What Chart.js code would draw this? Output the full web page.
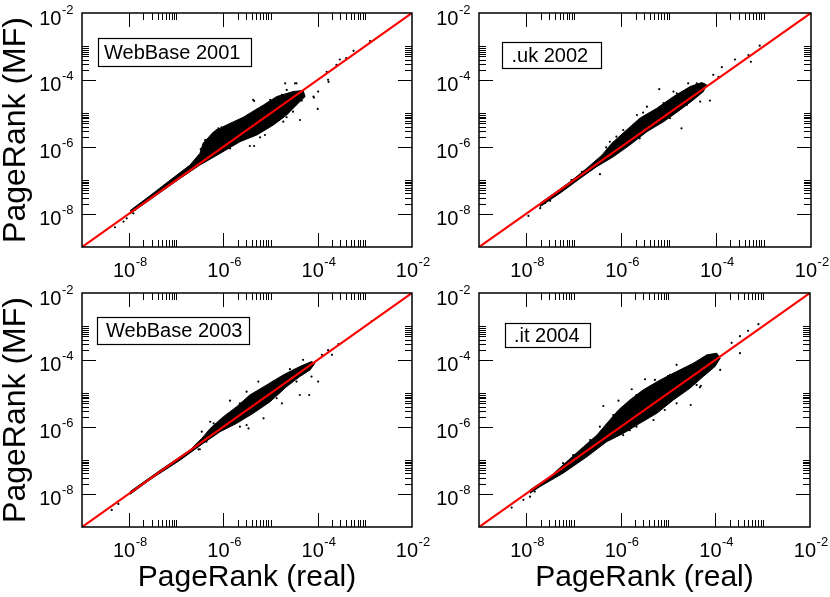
<!DOCTYPE html>
<html>
<head>
<meta charset="utf-8">
<script src="https://cdn.jsdelivr.net/npm/chart.js@4.4.1/dist/chart.umd.min.js"></script>
<style>
html, body { margin: 0; padding: 0; background: #fff; }
#wrap { position: relative; width: 830px; height: 597px; overflow: hidden; background: #fff; }
#wrap canvas { position: absolute; left: 0; top: 0; }
</style>
</head>
<body>
<div id="wrap">
  <canvas id="c0" width="830" height="597"></canvas>
  <canvas id="c1" width="830" height="597"></canvas>
  <canvas id="c2" width="830" height="597"></canvas>
  <canvas id="c3" width="830" height="597"></canvas>
</div>
<script>
// ---------- texts and ticks ----------
const panelNames = ['WebBase 2001', '.uk 2002', 'WebBase 2003', '.it 2004'];
const xAxisTitle = 'PageRank (real)';
const yAxisTitle = 'PageRank (MF)';
const axisMin = 1e-9;
const axisMax = 1e-2;
const majorTicks = [1e-8, 1e-6, 1e-4, 1e-2];
const tickBase = '10';
const tickExp = ['-8', '-6', '-4', '-2'];
const minorTicks = [2e-8, 3e-8, 4e-8, 5e-8, 6e-8, 7e-8, 8e-8, 9e-8, 1e-7,
                    2e-6, 3e-6, 4e-6, 5e-6, 6e-6, 7e-6, 8e-6, 9e-6, 1e-5,
                    2e-4, 3e-4, 4e-4, 5e-4, 6e-4, 7e-4, 8e-4, 9e-4, 1e-3];

// ---------- reference line y = x ----------
const diagX = [1e-9, 1e-2];
const diagY = [1e-9, 1e-2];

// ---------- WebBase 2001 ----------
// outline of the dense cloud
const coreX_wb2001 = [1.05e-8, 2.75e-8, 7.4e-8, 1.95e-7, 3.16e-7, 3.7e-7, 6.2e-7, 1.17e-6, 2.63e-6, 7.1e-6, 1.35e-5, 3.0e-5, 4.9e-5, 5.4e-5, 3.55e-5, 2.2e-5, 1.15e-5, 5.1e-6, 2.24e-6, 8.5e-7, 3.16e-7, 1.2e-7, 2.75e-8, 1.05e-8];
const coreY_wb2001 = [1.23e-8, 3.4e-8, 1.0e-7, 2.82e-7, 6.31e-7, 1.26e-6, 2.82e-6, 4.47e-6, 7.6e-6, 1.78e-5, 3.16e-5, 4.47e-5, 4.8e-5, 3.16e-5, 1.78e-5, 8.9e-6, 4.47e-6, 2.24e-6, 1.41e-6, 6.31e-7, 2.82e-7, 1.12e-7, 2.57e-8, 9.8e-9];
// isolated points
const dotX_wb2001 = [1.29e-3, 5.75e-4, 2.95e-4, 1.55e-4, 1.7e-4, 1.02e-4, 8.1e-5, 1.0e-4, 4.2e-5, 3.0e-5, 3.55e-5, 2.2e-5, 4.47e-6, 9.8e-6, 7.2e-7, 4.4e-7, 3.3e-7, 3.63e-6, 4.47e-6, 7.6e-6, 1.86e-5, 8.3e-5, 1.66e-4, 5.0e-9, 7.6e-9, 8.9e-9, 1.23e-8, 4.1e-7, 7.8e-7, 4.27e-6, 2.04e-5, 3.3e-5, 2.5e-4, 4.0e-4,
                     4.1e-7, 9.1e-7, 2.24e-6, 5.1e-6, 1.74e-5, 1.38e-6, 6.0e-6, 2.19e-5, 4.6e-5];
const dotY_wb2001 = [1.45e-3, 7.4e-4, 4.07e-4, 1.74e-4, 8.7e-5, 4.47e-5, 3.16e-5, 1.35e-5, 6.3e-6, 1.12e-5, 7.9e-5, 5.0e-5, 2.34e-5, 2.51e-5, 3.16e-6, 1.41e-6, 8.5e-7, 1.05e-6, 1.05e-6, 2.24e-6, 5.6e-6, 2.95e-5, 1.0e-4, 3.9e-9, 5.75e-9, 7.2e-9, 1.02e-8, 1.26e-6, 3.55e-6, 2.51e-5, 7.9e-5, 7.9e-5, 2.8e-4, 4.5e-4,
                     1.58e-6, 3.8e-6, 6.3e-6, 1.26e-5, 3.55e-5, 8.9e-7, 1.91e-6, 7.6e-6, 2.4e-5];

// ---------- .uk 2002 ----------
const coreX_uk2002 = [8.3e-8, 1.86e-7, 3.9e-7, 6.3e-7, 1.29e-6, 2.45e-6, 5.6e-6, 1.26e-5, 2.82e-5, 5.0e-5, 6.3e-5, 5.4e-5, 3.3e-5, 1.74e-5, 7.8e-6, 3.47e-6, 1.51e-6, 6.8e-7, 3.0e-7, 1.35e-7, 5.1e-8, 1.95e-8, 1.95e-8, 5.1e-8, 8.3e-8];
const coreY_uk2002 = [8.9e-8, 2.24e-7, 5.6e-7, 1.26e-6, 3.16e-6, 7.1e-6, 1.41e-5, 3.16e-5, 6.3e-5, 8.3e-5, 7.1e-5, 4.47e-5, 2.51e-5, 1.26e-5, 5.6e-6, 2.82e-6, 1.12e-6, 5.0e-7, 2.51e-7, 1.12e-7, 4.07e-8, 1.62e-8, 2.04e-8, 5.4e-8, 8.9e-8];
const dotX_uk2002 = [8.3e-4, 5.4e-4, 2.5e-4, 4.8e-4, 1.32e-4, 8.7e-5, 1.12e-4, 7.4e-5, 4.6e-5, 1.86e-5, 6.3e-6, 2.14e-6, 4.8e-7, 3.55e-7, 1.48e-7, 8.9e-8, 3.16e-8, 2.45e-8, 1.95e-8, 7.8e-6, 1.26e-5, 2.57e-5, 3.9e-5, 1.1e-6, 5.75e-7, 3.47e-6, 1.1e-8,
                    7.9e-7, 2.88e-6, 1.48e-5, 2.45e-6, 1.07e-5, 2.4e-5];
const dotY_uk2002 = [1.05e-3, 3.47e-4, 4.07e-4, 5.5e-4, 2.4e-4, 1.41e-4, 1.23e-4, 2.4e-5, 2.24e-5, 3.55e-6, 5.25e-5, 8.9e-6, 9.5e-7, 1.51e-7, 1.78e-7, 1.0e-7, 2.4e-8, 2.04e-8, 1.45e-8, 2.0e-5, 4.47e-5, 7.9e-5, 7.9e-5, 3.16e-6, 1.41e-6, 1.58e-5, 8.5e-9,
                    2.0e-6, 1.05e-5, 3.98e-5, 1.78e-6, 7.1e-6, 1.78e-5];

// ---------- WebBase 2003 ----------
const coreX_wb2003 = [1.05e-8, 5.25e-8, 1.95e-7, 3.47e-7, 5.25e-7, 1.0e-6, 1.91e-6, 3.63e-6, 8.3e-6, 1.86e-5, 4.17e-5, 7.4e-5, 8.7e-5, 6.9e-5, 4.17e-5, 2.19e-5, 9.8e-6, 4.27e-6, 1.91e-6, 8.5e-7, 3.7e-7, 1.2e-7, 2.75e-8, 1.05e-8];
const coreY_wb2003 = [1.15e-8, 5.75e-8, 2.0e-7, 4.47e-7, 8.9e-7, 2.0e-6, 3.98e-6, 8.9e-6, 1.78e-5, 3.55e-5, 6.3e-5, 8.9e-5, 7.9e-5, 5.0e-5, 3.16e-5, 1.58e-5, 5.6e-6, 2.51e-6, 1.26e-6, 7.1e-7, 3.16e-7, 1.0e-7, 2.57e-8, 9.5e-9];
const dotX_wb2003 = [1.41e-3, 2.75e-4, 2.0e-4, 1.23e-4, 1.02e-4, 6.6e-5, 7.4e-5, 4.9e-5, 2.57e-5, 5.5e-6, 3.1e-6, 1.38e-6, 5.25e-7, 3.47e-7, 3.1e-6, 3.4e-6, 7.1e-6, 1.74e-5, 2.95e-7, 4.37e-7, 4.27e-9, 5.9e-9, 5.25e-8, 3.16e-7, 4.17e-5, 1.66e-4,
                     6.2e-7, 2.24e-6, 1.15e-5, 2.24e-6, 1.35e-5, 3.55e-5];
const dotY_wb2003 = [1.45e-3, 2.95e-4, 1.41e-4, 1.41e-4, 2.24e-5, 8.9e-6, 3.16e-5, 1.0e-4, 5.25e-5, 2.24e-5, 1.12e-5, 6.0e-6, 1.41e-6, 7.1e-7, 1.12e-6, 8.9e-7, 1.78e-6, 5.0e-6, 2.1e-7, 3.55e-7, 3.24e-9, 4.9e-9, 5.1e-8, 2.1e-7, 8.9e-6, 1.95e-4,
                     1.26e-6, 5.0e-6, 2.24e-5, 1.0e-6, 7.1e-6, 2.24e-5];

// ---------- .it 2004 ----------
const coreX_it2004 = [1.2e-8, 3.16e-8, 7.1e-8, 1.62e-7, 3.1e-7, 5.4e-7, 8.9e-7, 1.55e-6, 2.95e-6, 6.8e-6, 1.51e-5, 3.4e-5, 6.6e-5, 1.07e-4, 1.26e-4, 9.8e-5, 5.5e-5, 2.88e-5, 1.29e-5, 5.75e-6, 2.51e-6, 1.12e-6, 5.0e-7, 1.91e-7, 6.0e-8, 1.95e-8, 1.2e-8];
const coreY_it2004 = [1.29e-8, 3.16e-8, 8.9e-8, 2.51e-7, 5.6e-7, 1.41e-6, 3.16e-6, 6.3e-6, 1.26e-5, 2.51e-5, 4.47e-5, 7.9e-5, 1.41e-4, 1.58e-4, 1.12e-4, 6.3e-5, 3.16e-5, 1.41e-5, 6.3e-6, 2.51e-6, 1.26e-6, 6.3e-7, 3.55e-7, 1.26e-7, 4.07e-8, 1.62e-8, 1.02e-8];
const dotX_it2004 = [8.1e-4, 4.9e-4, 3.3e-4, 2.2e-4, 3.3e-4, 1.26e-4, 4.9e-5, 1.51e-5, 1.1e-5, 5.25e-6, 3.24e-6, 1.7e-6, 8.9e-7, 4.27e-7, 3.6e-7, 1.51e-5, 3.0e-5, 4.9e-6, 8.5e-6, 2.14e-6, 1.12e-6, 6.0e-8, 9.8e-8, 1.51e-8, 4.9e-9, 8.7e-9, 1.2e-8, 4.7e-5, 1.45e-6,
                     6.9e-7, 2.14e-6, 1.0e-5, 2.24e-7, 1.55e-6, 7.9e-6, 4.0e-5];
const dotY_it2004 = [1.17e-3, 7.4e-4, 5.1e-4, 3.24e-4, 1.58e-4, 5.0e-5, 1.66e-5, 7.1e-5, 3.55e-5, 2.51e-5, 2.63e-5, 1.32e-5, 6.0e-6, 4.17e-6, 1.0e-6, 5.0e-6, 4.47e-6, 1.58e-6, 3.16e-6, 1.0e-6, 5.6e-7, 8.1e-8, 1.41e-7, 1.15e-8, 3.8e-9, 6.5e-9, 8.1e-9, 1.51e-5, 7.9e-7,
                     2.24e-6, 8.9e-6, 3.3e-5, 4.0e-7, 7.9e-7, 3.98e-6, 1.78e-5];

// ---------- layout (pixels, not data) ----------
const W = 830, H = 597;
const panelRects = [[82, 13, 412, 247], [479, 13, 811, 247], [82, 293, 412, 527], [479, 293, 810, 527]];
const labelBoxes = [
  { dx: 16, dy: 25, w: 153, h: 28, pad: 6 },
  { dx: 23, dy: 29, w: 99, h: 26, pad: 9.5 },
  { dx: 15, dy: 24, w: 152, h: 27, pad: 9 },
  { dx: 26, dy: 30, w: 85, h: 24, pad: 9 }
];
const panelData = [
  [coreX_wb2001, coreY_wb2001, dotX_wb2001, dotY_wb2001],
  [coreX_uk2002, coreY_uk2002, dotX_uk2002, dotY_uk2002],
  [coreX_wb2003, coreY_wb2003, dotX_wb2003, dotY_wb2003],
  [coreX_it2004, coreY_it2004, dotX_it2004, dotY_it2004]
];

const FONT = "'Liberation Sans', Arial, Helvetica, sans-serif";
Chart.defaults.font.family = FONT;
Chart.defaults.color = '#000';

const pairs = (xs, ys) => xs.map((x, i) => ({ x: x, y: ys[i] }));

function drawPow(ctx, sx, baseline, exp) {
  ctx.font = '20px ' + FONT;
  ctx.fillText(tickBase, sx, baseline);
  const wb = ctx.measureText(tickBase).width;
  ctx.font = '13px ' + FONT;
  ctx.fillText(exp, sx + wb + 0.5, baseline - 11);
}
function powWidth(ctx, exp) {
  ctx.font = '20px ' + FONT;
  const wb = ctx.measureText(tickBase).width;
  ctx.font = '13px ' + FONT;
  return wb + 0.5 + ctx.measureText(exp).width;
}

const frameTicks = {
  id: 'frameTicks',
  afterDatasetsDraw(chart, args, opts) {
    const { ctx, chartArea: a } = chart;
    const x = chart.scales.x, y = chart.scales.y;
    ctx.save();
    ctx.strokeStyle = '#000';
    ctx.lineWidth = 1;
    ctx.beginPath();
    const marks = majorTicks.filter(v => v < axisMax).map(v => [v, 14])
      .concat(minorTicks.map(v => [v, 7]));
    for (const [v, len] of marks) {
      const px = Math.round(x.getPixelForValue(v)) + 0.5;
      ctx.moveTo(px, a.bottom); ctx.lineTo(px, a.bottom - len);
      ctx.moveTo(px, a.top); ctx.lineTo(px, a.top + len);
      const py = Math.round(y.getPixelForValue(v)) + 0.5;
      ctx.moveTo(a.left, py); ctx.lineTo(a.left + len, py);
      ctx.moveTo(a.right, py); ctx.lineTo(a.right - len, py);
    }
    ctx.stroke();
    ctx.lineWidth = 1.5;
    ctx.strokeRect(a.left, a.top, a.right - a.left, a.bottom - a.top);

    // tick labels 10^k
    ctx.fillStyle = '#000';
    ctx.textBaseline = 'alphabetic';
    ctx.textAlign = 'left';
    majorTicks.forEach((v, i) => {
      const e = tickExp[i];
      const tw = powWidth(ctx, e);
      const px = x.getPixelForValue(v);
      drawPow(ctx, px - tw / 2 + 1, a.bottom + 30, e);
      const py = y.getPixelForValue(v);
      drawPow(ctx, a.left - 8.5 - tw, py + 11.5, e);
    });

    // panel name box
    const b = opts.box;
    const bx = a.left + b.dx, by = a.top + b.dy;
    ctx.fillStyle = '#fff';
    ctx.fillRect(bx, by, b.w, b.h);
    ctx.lineWidth = 1.2;
    ctx.strokeRect(bx + 0.5, by + 0.5, b.w, b.h);
    ctx.fillStyle = '#000';
    ctx.font = '20px ' + FONT;
    ctx.textBaseline = 'middle';
    ctx.fillText(opts.label, bx + b.pad, by + b.h / 2 + 1);
    ctx.restore();
  }
};

function makeChart(p) {
  const [L, T, R, B] = panelRects[p];
  const isLeft = p % 2 === 0, isBottom = p >= 2;
  const yW = isLeft ? L : 60;
  const xH = isBottom ? 70 : 45;
  const [cx, cy, dx, dy] = panelData[p];
  new Chart(document.getElementById('c' + p), {
    type: 'scatter',
    data: {
      datasets: [
        { label: 'y = x', data: pairs(diagX, diagY), showLine: true, borderColor: '#ff0000',
          borderWidth: 2.2, pointRadius: 0, fill: false, order: 0 },
        { label: panelNames[p] + ' points', data: pairs(dx, dy), showLine: false,
          pointRadius: 1.1, pointBackgroundColor: '#000', pointBorderWidth: 0, order: 1 },
        { label: panelNames[p] + ' dense', data: pairs(cx, cy), showLine: true, fill: 'shape',
          borderColor: '#000', backgroundColor: '#000', borderWidth: 1, pointRadius: 0,
          tension: 0, order: 2 }
      ]
    },
    options: {
      responsive: false,
      animation: false,
      events: [],
      layout: { autoPadding: false, padding: { left: L - yW, top: T, right: W - R, bottom: H - B - xH } },
      plugins: {
        legend: { display: false },
        tooltip: { enabled: false },
        frameTicks: { label: panelNames[p], box: labelBoxes[p] }
      },
      scales: {
        x: {
          type: 'logarithmic', min: axisMin, max: axisMax,
          afterBuildTicks: s => { s.ticks = majorTicks.map(v => ({ value: v })); },
          afterFit: s => { s.height = xH; },
          grid: { display: false, drawTicks: false },
          border: { display: false },
          ticks: { display: false },
          title: { display: isBottom, text: xAxisTitle, font: { size: 30 }, padding: { top: 0, bottom: 1.4 } }
        },
        y: {
          type: 'logarithmic', min: axisMin, max: axisMax,
          afterBuildTicks: s => { s.ticks = majorTicks.map(v => ({ value: v })); },
          afterFit: s => { s.width = yW; },
          grid: { display: false, drawTicks: false },
          border: { display: false },
          ticks: { display: false },
          title: { display: isLeft, text: yAxisTitle, font: { size: 32, lineHeight: 1 }, padding: { top: 0.5, bottom: 0 } }
        }
      }
    },
    plugins: [frameTicks]
  });
}
for (let p = 0; p < 4; p++) makeChart(p);
</script>
</body>
</html>
